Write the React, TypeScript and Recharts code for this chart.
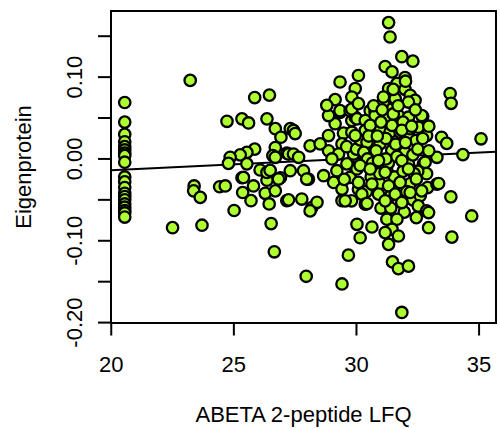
import React from "react";
import {
  ScatterChart,
  Scatter,
  XAxis,
  YAxis,
  ReferenceArea,
  ReferenceLine,
  Label,
} from "recharts";

// ABETA 2-peptide LFQ (x) vs Eigenprotein (y)
const leftColumnX = 20.55;
const leftColumnY: number[] = [
  0.069, 0.045, 0.03, 0.021, 0.015, 0.011, 0.007, 0.004, -0.004, -0.022,
  -0.028, -0.035, -0.042, -0.046, -0.05, -0.055, -0.059, -0.063, -0.066, -0.071,
];

const sparseLeft: [number, number][] = [
  [23.22, 0.096], [22.5, -0.084], [23.38, -0.033], [23.36, -0.039], [23.63, -0.047],
  [23.7, -0.081], [24.42, -0.034], [24.65, -0.033], [25.01, -0.063], [25.33, -0.023],
  [25.36, -0.041], [25.8, -0.033], [25.7, -0.051], [26.07, -0.0135], [26.35, -0.026],
  [26.28, -0.042], [26.69, -0.039], [26.44, -0.055], [26.9, -0.023], [27.16, -0.051],
  [26.52, -0.079], [26.65, -0.1135], [24.72, 0.046], [25.33, 0.049], [25.6, 0.044],
  [25.85, 0.075], [26.45, 0.078], [26.35, 0.049], [26.69, 0.037], [26.92, 0.0265],
  [26.69, 0.014], [27.3, 0.037], [27.16, 0.007], [25.85, 0.012], [25.53, 0.008],
  [25.26, 0.005], [24.85, 0.002], [25.53, -0.006], [25.39, -0.0226], [24.78, -0.0054],
  [26.35, -0.0165], [26.59, 0.004], [27.43, 0.0348], [27.5, 0.031], [28.11, 0.016],
  [26.69, 0.002], [27.23, 0.006], [27.43, 0.006], [27.64, 0.002], [26.48, -0.014],
  [26.82, -0.0246], [27.3, -0.0144], [27.84, -0.0144], [28.04, -0.0246], [27.23, -0.05],
  [27.77, -0.049], [28.18, -0.0595], [28.39, -0.053], [28.11, -0.0635], [27.97, -0.0246],
];

const midCluster: [number, number][] = [
  [28.66, -0.0205], [29.07, -0.0287], [29.41, -0.0369], [29.2, -0.0144], [29.74, -0.0226],
  [29.95, -0.0103], [29.61, -0.006], [29.8, -0.0512], [29.41, -0.051], [30.08, -0.037],
  [28.86, 0.0286], [29.47, 0.0315], [29.81, 0.0327], [29.41, 0.0184], [28.86, 0.01],
  [28.52, 0.0184], [29.13, 0.043], [28.86, 0.053], [29.33, 0.057], [29.81, 0.047],
  [29.95, 0.051], [29.27, 0.006], [29.88, 0.006], [29.33, 0.094], [30.08, 0.102],
  [29.95, 0.086], [29.81, 0.0757], [29.13, 0.0725], [28.79, 0.0655], [29.33, 0.059],
  [29.74, 0.059], [29.6, 0.015], [29.0, 0.0], [29.5, -0.025], [30.0, 0.012],
];

const upperCluster: [number, number][] = [
  [31.31, 0.1666], [31.37, 0.149], [31.85, 0.125], [32.3, 0.1195], [31.17, 0.113],
  [31.45, 0.1064], [31.98, 0.0995], [31.31, 0.086], [31.65, 0.092], [31.98, 0.085],
  [32.19, 0.0778], [32.39, 0.0716], [32.12, 0.0695], [33.82, 0.08], [33.86, 0.068],
  [29.81, 0.061], [30.56, 0.059], [30.76, 0.058], [31.31, 0.061], [31.1, 0.0695],
  [32.7, 0.052], [32.52, 0.0388], [32.86, 0.0286], [33.47, 0.0265], [33.68, 0.019],
  [35.08, 0.0246], [34.34, 0.0053], [30.02, 0.049], [30.36, 0.047], [30.96, 0.0369],
  [31.37, 0.0327], [31.78, 0.0327], [32.12, 0.0286], [32.43, 0.0225], [30.15, 0.0233],
  [30.56, 0.0184], [30.96, 0.0184], [31.51, 0.0123], [31.98, 0.0081], [32.73, -0.006],
  [33.28, 0.002], [32.86, -0.018], [32.12, -0.006], [31.24, -0.0144], [30.69, 0.0],
  [30.02, -0.0123], [31.58, 0.0737], [31.1, 0.0757], [30.08, 0.0676], [32.66, 0.053],
  [31.44, 0.0102], [30.36, 0.0348], [30.43, 0.0204], [30.76, 0.053], [31.31, 0.051],
  [31.71, 0.053], [32.12, 0.051], [31.45, 0.041], [32.19, 0.0369], [30.56, 0.041],
  [29.95, 0.0286],
];

const coreFill: [number, number][] = [
  [30.5, 0.028], [30.8, 0.01], [31.0, 0.045], [31.2, 0.025], [31.5, 0.055],
  [31.6, 0.018], [31.9, 0.045], [32.0, 0.02], [32.3, 0.005], [32.5, 0.012],
  [30.3, 0.008], [30.6, -0.022], [30.95, -0.03], [31.3, -0.005], [31.55, -0.022],
  [31.9, -0.015], [32.2, -0.03], [32.5, -0.015], [32.7, 0.025], [30.4, -0.04],
  [31.0, -0.06], [31.4, -0.06], [31.95, -0.065], [32.3, -0.05], [32.6, -0.045],
  [30.7, 0.065], [31.7, 0.065], [32.0, 0.095], [31.5, 0.085], [32.4, 0.06],
  [31.2, 0.0], [30.45, 0.0], [32.05, -0.04], [31.65, 0.003], [30.85, 0.028],
  [32.95, 0.01], [32.9, -0.035], [32.95, 0.04], [31.05, 0.06], [31.85, 0.035],
  [32.25, 0.04], [30.65, -0.005], [31.4, -0.045], [32.35, -0.018], [30.95, -0.018],
];

const lowerCluster: [number, number][] = [
  [30.9, -0.002], [31.85, -0.002], [32.8, -0.004], [30.15, -0.008], [30.56, -0.0123],
  [31.17, -0.0164], [32.12, -0.0123], [32.44, -0.0246], [33.28, -0.0307], [31.78, -0.0287],
  [31.31, -0.0328], [30.63, -0.0307], [30.08, -0.0287], [30.22, -0.043], [30.9, -0.043],
  [31.58, -0.043], [32.19, -0.041], [32.66, -0.039], [30.36, -0.0553], [31.17, -0.0512],
  [31.85, -0.0533], [32.52, -0.0574], [32.86, -0.0635], [33.35, -0.03], [33.85, -0.0463],
  [34.7, -0.0697], [33.89, -0.0955], [29.54, -0.0512], [30.43, -0.0545], [32.44, -0.0717],
  [32.94, -0.0655], [32.94, -0.084], [30.02, -0.0799], [30.63, -0.0832], [30.15, -0.0963],
  [31.24, -0.0737], [31.65, -0.0737], [31.45, -0.086], [31.17, -0.09], [31.71, -0.0942],
  [31.31, -0.1044], [29.67, -0.1176], [31.47, -0.1258], [31.71, -0.134], [32.12, -0.131],
  [27.95, -0.1434], [29.41, -0.1528], [31.85, -0.1876],
];

// regression line endpoints
const fitX: [number, number] = [19.99, 35.69];
const fitY: [number, number] = [-0.0137, 0.0087];

const xDomain: [number, number] = [19.99, 35.69];
const yDomain: [number, number] = [-0.2005, 0.1808];
const xTicks = [20, 25, 30, 35];
const yTicks = [-0.2, -0.15, -0.1, -0.05, 0, 0.05, 0.1, 0.15];
const yLabelled = [-0.2, -0.1, 0, 0.1];

const allPoints = [
  ...leftColumnY.map((y) => [leftColumnX, y] as [number, number]),
  ...sparseLeft,
  ...midCluster,
  ...upperCluster,
  ...coreFill,
  ...lowerCluster,
].map(([x, y]) => ({ x, y }));

const FONT = "'Liberation Sans', Arial, Helvetica, sans-serif";
const FS = 22;

const Dot = (props: any) => {
  const { cx, cy } = props;
  if (cx == null || cy == null) return null;
  return <circle cx={cx} cy={cy} r={5.7} fill="#ADFF2F" stroke="#000" strokeWidth={2.3} />;
};

const XTick = (props: any) => {
  const { x, y, payload } = props;
  return (
    <text x={x} y={y + 34} textAnchor="middle" fontSize={FS} fontFamily={FONT} fill="#000">
      {String(payload.value)}
    </text>
  );
};

const YTick = (props: any) => {
  const { x, y, payload } = props;
  const v = payload.value as number;
  if (!yLabelled.some((t) => Math.abs(t - v) < 1e-9)) return null;
  const tx = x - 13.5;
  return (
    <text
      x={tx}
      y={y}
      transform={`rotate(-90, ${tx}, ${y})`}
      textAnchor="middle"
      fontSize={FS}
      fontFamily={FONT}
      fill="#000"
    >
      {v.toFixed(2)}
    </text>
  );
};

export default function App() {
  return (
    <div style={{ position: "absolute", left: 0, top: 0, width: 500, height: 429, background: "#fff" }}>
      <ScatterChart width={500} height={429} margin={{ top: 11, right: 4, bottom: 0, left: 0 }}>
        <XAxis
          type="number"
          dataKey="x"
          domain={xDomain}
          allowDataOverflow
          ticks={xTicks}
          height={106}
          axisLine={false}
          tickLine={{ stroke: "#000", strokeWidth: 2 }}
          tickSize={12.5}
          tick={<XTick />}
          interval={0}
        >
          <Label
            content={(p: any) => {
              const vb = p.viewBox || {};
              return (
                <text
                  x={vb.x + vb.width / 2}
                  y={421.5}
                  textAnchor="middle"
                  fontSize={FS}
                  fontFamily={FONT}
                  fill="#000"
                >
                  ABETA 2-peptide LFQ
                </text>
              );
            }}
          />
        </XAxis>
        <YAxis
          type="number"
          dataKey="y"
          domain={yDomain}
          allowDataOverflow
          ticks={yTicks}
          width={111}
          axisLine={false}
          tickLine={{ stroke: "#000", strokeWidth: 2 }}
          tickSize={13}
          tick={<YTick />}
          interval={0}
        >
          <Label
            content={(p: any) => {
              const vb = p.viewBox || {};
              const cy = vb.y + vb.height / 2;
              return (
                <text
                  x={31}
                  y={cy}
                  transform={`rotate(-90, 31, ${cy})`}
                  textAnchor="middle"
                  fontSize={FS}
                  fontFamily={FONT}
                  fill="#000"
                >
                  Eigenprotein
                </text>
              );
            }}
          />
        </YAxis>
        <Scatter data={allPoints} shape={<Dot />} isAnimationActive={false} />
        <ReferenceLine
          segment={[
            { x: fitX[0], y: fitY[0] },
            { x: fitX[1], y: fitY[1] },
          ]}
          stroke="#000"
          strokeWidth={2}
          ifOverflow="visible"
        />
        <ReferenceArea
          x1={xDomain[0]}
          x2={xDomain[1]}
          y1={yDomain[0]}
          y2={yDomain[1]}
          fill="none"
          fillOpacity={0}
          stroke="#000"
          strokeWidth={2}
          ifOverflow="visible"
        />
      </ScatterChart>
    </div>
  );
}
